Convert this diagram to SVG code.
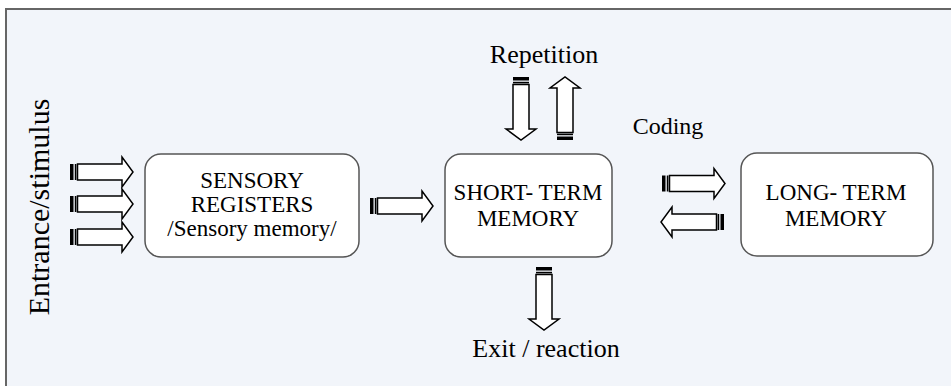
<svg xmlns="http://www.w3.org/2000/svg" xmlns:xlink="http://www.w3.org/1999/xlink" width="951" height="386" viewBox="0 0 951 386">
  <style>
    text { font-family: "Liberation Serif", "Times New Roman", serif; fill: #000; }
    .box { fill: #fff; stroke: #555; stroke-width: 1.5; }
    .lbl { font-size: 26px; text-anchor: middle; }
    .btx { font-size: 23px; text-anchor: middle; }
  </style>
  <defs>
    <!-- striped block arrow pointing right; origin at tail, centred vertically -->
    <g id="arrow">
      <rect x="0" y="-8" width="3.5" height="16" fill="#000"/>
      <rect x="4.8" y="-8" width="1.6" height="16" fill="#000"/>
      <polygon points="7.5,-8 52,-8 52,-15 63,0 52,15 52,8 7.5,8" fill="#fff" stroke="#000" stroke-width="1.5" stroke-linejoin="miter"/>
    </g>
  </defs>

  <!-- panel background -->
  <rect x="6" y="9" width="960" height="390" fill="#f2f5fa" stroke="#666" stroke-width="2"/>

  <g id="entrance">
    <text class="lbl" style="font-size:30px" transform="translate(49,207) rotate(-90)">Entrance/stimulus</text>
  </g>

  <g id="sensory">
    <rect class="box" x="145" y="154" width="214" height="103" rx="16"/>
    <text class="btx" x="252" y="188">SENSORY</text>
    <text class="btx" x="252" y="212">REGISTERS</text>
    <text class="btx" x="252" y="236">/Sensory memory/</text>
  </g>

  <g id="short-term">
    <rect class="box" x="445" y="154" width="167" height="103" rx="16"/>
    <text class="btx" x="528" y="200">SHORT- TERM</text>
    <text class="btx" x="528" y="226">MEMORY</text>
  </g>

  <g id="long-term">
    <rect class="box" x="741" y="153" width="192" height="103" rx="16"/>
    <text class="btx" x="836" y="200">LONG- TERM</text>
    <text class="btx" x="836" y="226">MEMORY</text>
  </g>

  <g id="repetition">
    <text class="lbl" x="544" y="63">Repetition</text>
  </g>
  <g id="coding">
    <text class="lbl" style="font-size:24px" x="668" y="134">Coding</text>
  </g>
  <g id="exit">
    <text class="lbl" x="546" y="357">Exit / reaction</text>
  </g>

  <g id="connectors">
    <use xlink:href="#arrow" transform="translate(70,172)"/>
    <use xlink:href="#arrow" transform="translate(70,204)"/>
    <use xlink:href="#arrow" transform="translate(70,237)"/>
    <use xlink:href="#arrow" transform="translate(370,206)"/>
    <use xlink:href="#arrow" transform="translate(521,77) rotate(90)"/>
    <use xlink:href="#arrow" transform="translate(565,140) rotate(-90)"/>
    <use xlink:href="#arrow" transform="translate(544,267) rotate(90)"/>
    <use xlink:href="#arrow" transform="translate(662,183.5)"/>
    <use xlink:href="#arrow" transform="translate(724,222) rotate(180)"/>
  </g>
</svg>
